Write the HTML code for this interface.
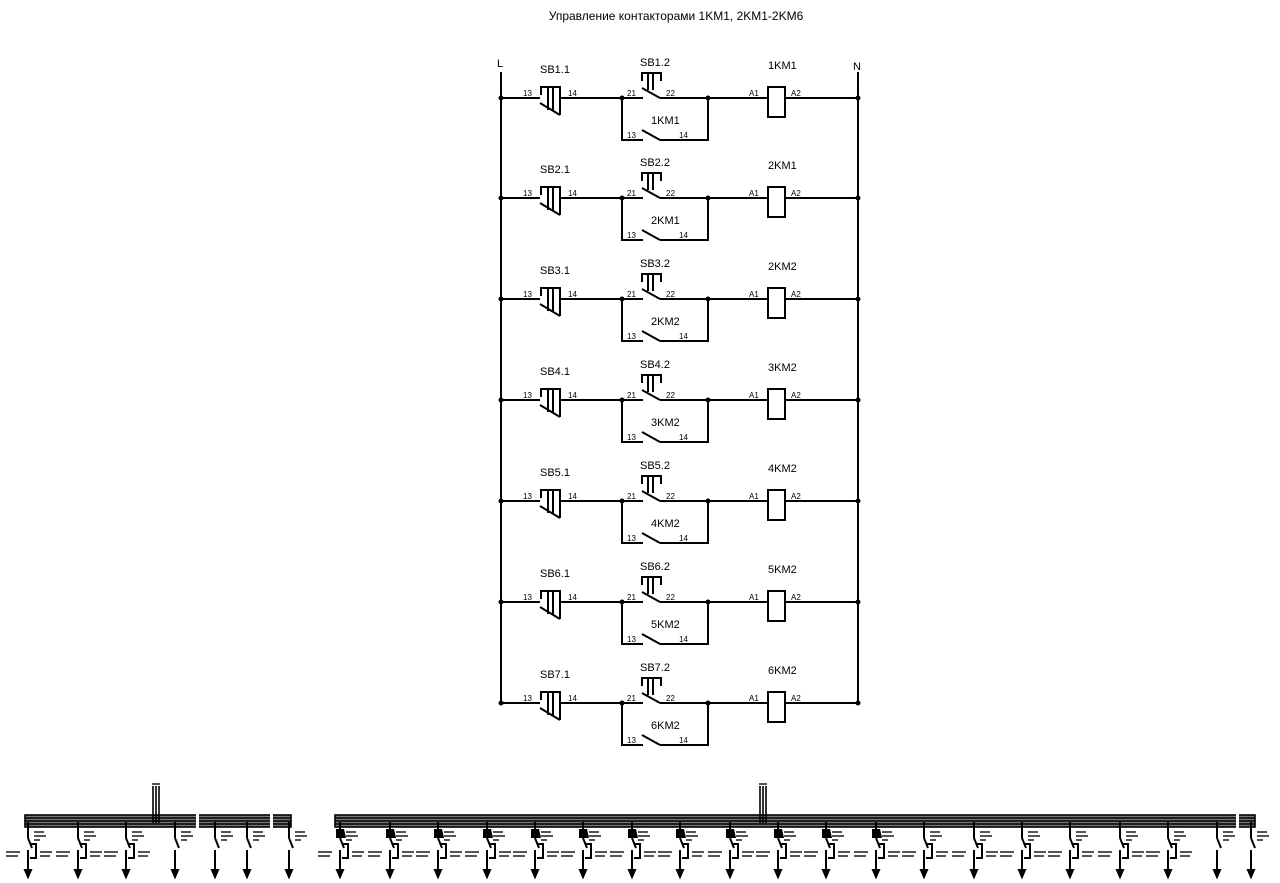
<!DOCTYPE html>
<html><head><meta charset="utf-8"><style>
body{margin:0;background:#fff}
svg{display:block}
text{font-family:"Liberation Sans",sans-serif;fill:#000}
.l{font-size:11px}.s{font-size:8px}
</style></head><body>
<svg width="1280" height="883" viewBox="0 0 1280 883" xmlns="http://www.w3.org/2000/svg">
<text x="676" y="20" font-size="12" text-anchor="middle">Управление контакторами 1KM1, 2KM1-2KM6</text>
<text x="497" y="67" class="l">L</text>
<text x="853" y="70" class="l">N</text>
<g stroke="#000" stroke-width="2" fill="none">
<line x1="501" y1="72" x2="501" y2="703"/>
<line x1="858" y1="72" x2="858" y2="703"/>
</g>
<defs>
<g id="row">
<g stroke="#000" stroke-width="2" fill="none">
<line x1="501" y1="0" x2="540" y2="0"/>
<polyline points="541,-3 541,-11 560,-11 560,17"/>
<line x1="548" y1="-11" x2="548" y2="12"/>
<line x1="553" y1="-11" x2="553" y2="12"/>
<line x1="540" y1="5" x2="560" y2="17"/>
<line x1="560" y1="0" x2="643" y2="0"/>
<polyline points="642,-17 642,-25 661,-25 661,-17"/>
<line x1="648" y1="-25" x2="648" y2="-8"/>
<line x1="653" y1="-25" x2="653" y2="-8"/>
<line x1="642" y1="-10" x2="660" y2="0"/>
<line x1="660" y1="0" x2="768" y2="0"/>
<rect x="768" y="-11" width="17" height="30"/>
<line x1="785" y1="0" x2="858" y2="0"/>
<polyline points="622,0 622,42 643,42"/>
<line x1="642" y1="32" x2="660" y2="42"/>
<polyline points="660,42 708,42 708,0"/>
</g>
<circle cx="501" cy="0" r="2.5"/><circle cx="858" cy="0" r="2.5"/>
<circle cx="622" cy="0" r="2.5"/><circle cx="708" cy="0" r="2.5"/>
<text x="523" y="-2" class="s">13</text><text x="568" y="-2" class="s">14</text>
<text x="627" y="-2" class="s">21</text><text x="666" y="-2" class="s">22</text>
<text x="749" y="-2" class="s">A1</text><text x="791" y="-2" class="s">A2</text>
<text x="627" y="40" class="s">13</text><text x="679" y="40" class="s">14</text>
</g>
</defs>
<g transform="translate(0,98)"><use href="#row"/><text x="540" y="-25" class="l">SB1.1</text><text x="640" y="-32" class="l">SB1.2</text><text x="768" y="-29" class="l">1KM1</text><text x="651" y="26" class="l">1KM1</text></g>
<g transform="translate(0,198)"><use href="#row"/><text x="540" y="-25" class="l">SB2.1</text><text x="640" y="-32" class="l">SB2.2</text><text x="768" y="-29" class="l">2KM1</text><text x="651" y="26" class="l">2KM1</text></g>
<g transform="translate(0,299)"><use href="#row"/><text x="540" y="-25" class="l">SB3.1</text><text x="640" y="-32" class="l">SB3.2</text><text x="768" y="-29" class="l">2KM2</text><text x="651" y="26" class="l">2KM2</text></g>
<g transform="translate(0,400)"><use href="#row"/><text x="540" y="-25" class="l">SB4.1</text><text x="640" y="-32" class="l">SB4.2</text><text x="768" y="-29" class="l">3KM2</text><text x="651" y="26" class="l">3KM2</text></g>
<g transform="translate(0,501)"><use href="#row"/><text x="540" y="-25" class="l">SB5.1</text><text x="640" y="-32" class="l">SB5.2</text><text x="768" y="-29" class="l">4KM2</text><text x="651" y="26" class="l">4KM2</text></g>
<g transform="translate(0,602)"><use href="#row"/><text x="540" y="-25" class="l">SB6.1</text><text x="640" y="-32" class="l">SB6.2</text><text x="768" y="-29" class="l">5KM2</text><text x="651" y="26" class="l">5KM2</text></g>
<g transform="translate(0,703)"><use href="#row"/><text x="540" y="-25" class="l">SB7.1</text><text x="640" y="-32" class="l">SB7.2</text><text x="768" y="-29" class="l">6KM2</text><text x="651" y="26" class="l">6KM2</text></g>

<defs>
<g id="drop">
<g stroke="#000" stroke-width="2" fill="none">
<line x1="0" y1="822" x2="0" y2="838"/>
<line x1="0" y1="838" x2="4" y2="848"/>
<line x1="0" y1="850" x2="0" y2="876"/>
<polygon points="-3,870 3,870 0,877" fill="#000"/>
</g>
<rect x="6" y="831" width="10" height="2" fill="#555"/>
<rect x="6" y="835" width="12" height="2" fill="#555"/>
<rect x="6" y="839" width="6" height="2" fill="#555"/>
</g>
<g id="drop2">
<use href="#drop"/>
<g stroke="#000" stroke-width="2" fill="none"><polyline points="2,844 8,844 8,858 2,858"/></g>
<rect x="-22" y="851" width="14" height="2" fill="#555"/>
<rect x="-22" y="855" width="12" height="2" fill="#555"/>
<rect x="12" y="851" width="12" height="2" fill="#555"/>
<rect x="12" y="855" width="10" height="2" fill="#555"/>
</g>
<g id="drop3">
<use href="#drop2"/>
<polygon points="-4,829 4,829 6,838 -4,838" fill="#000"/>
</g>
</defs>
<g stroke="#000" fill="none" stroke-width="1.6">
<rect x="25" y="815" width="266" height="12" fill="#777"/>
<line x1="25" y1="818" x2="291" y2="818"/><line x1="25" y1="821" x2="291" y2="821"/><line x1="25" y1="824" x2="291" y2="824"/>
<rect x="335" y="815" width="920" height="12" fill="#777"/>
<line x1="335" y1="818" x2="1255" y2="818"/><line x1="335" y1="821" x2="1255" y2="821"/><line x1="335" y1="824" x2="1255" y2="824"/>
<line x1="153" y1="786" x2="153" y2="823"/><line x1="156" y1="786" x2="156" y2="823"/><line x1="159" y1="786" x2="159" y2="823"/>
<line x1="760" y1="786" x2="760" y2="823"/><line x1="763" y1="786" x2="763" y2="823"/><line x1="766" y1="786" x2="766" y2="823"/>
</g>
<rect x="152" y="783" width="8" height="2" fill="#555"/><rect x="759" y="783" width="8" height="2" fill="#555"/>
<g fill="#fff"><rect x="196" y="814" width="3" height="15"/><rect x="270" y="814" width="3" height="15"/><rect x="1236" y="814" width="3" height="15"/></g>
<use href="#drop2" x="28"/><use href="#drop2" x="78"/><use href="#drop2" x="126"/>
<use href="#drop" x="175"/><use href="#drop" x="215"/><use href="#drop" x="247"/><use href="#drop" x="289"/>
<use href="#drop3" x="340"/><use href="#drop3" x="390"/><use href="#drop3" x="438"/><use href="#drop3" x="487"/><use href="#drop3" x="535"/><use href="#drop3" x="583"/><use href="#drop3" x="632"/><use href="#drop3" x="680"/><use href="#drop3" x="730"/><use href="#drop3" x="778"/><use href="#drop3" x="826"/><use href="#drop3" x="876"/><use href="#drop2" x="924"/><use href="#drop2" x="974"/><use href="#drop2" x="1022"/><use href="#drop2" x="1070"/><use href="#drop2" x="1120"/><use href="#drop2" x="1168"/>
<use href="#drop" x="1217"/><use href="#drop" x="1251"/>
</svg>
</body></html>
